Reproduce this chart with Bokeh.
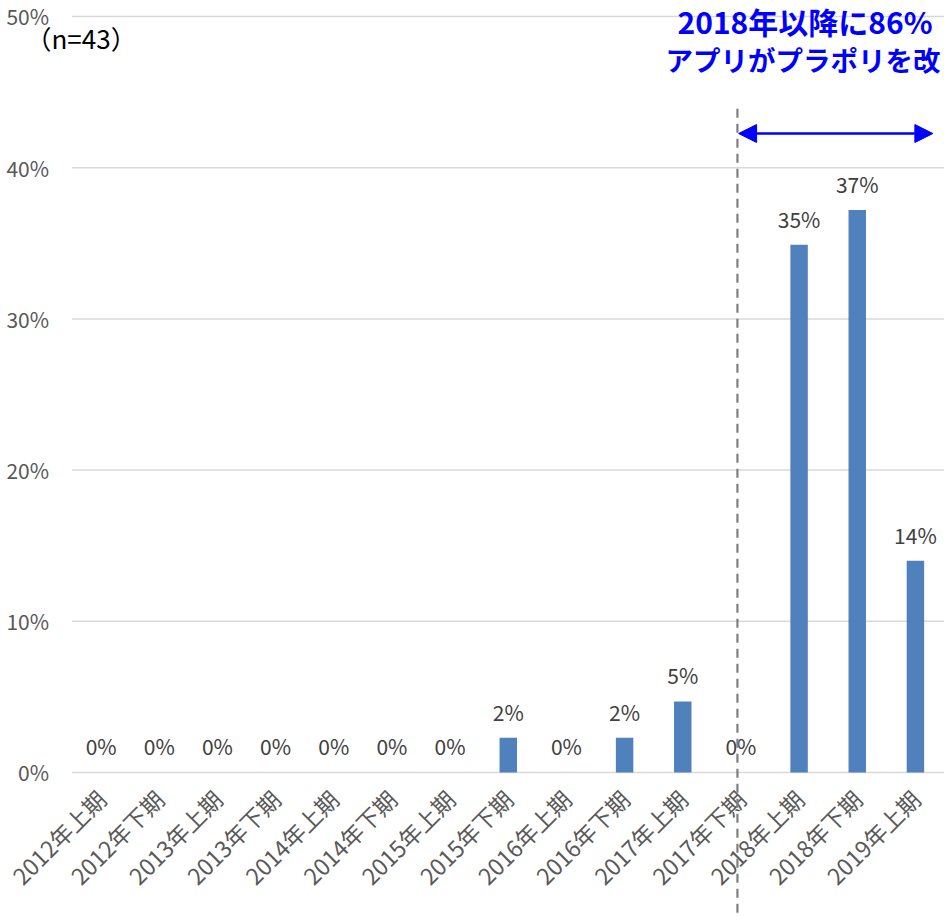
from bokeh.plotting import figure
from bokeh.models import (Range1d, FixedTicker, PrintfTickFormatter, ColumnDataSource,
                          Label, Arrow, NormalHead, LinearAxis)
from bokeh.core.properties import value
from bokeh.embed import file_html
from bokeh.resources import INLINE

categories = ["2012年上期", "2012年下期", "2013年上期", "2013年下期", "2014年上期",
              "2014年下期", "2015年上期", "2015年下期", "2016年上期", "2016年下期",
              "2017年上期", "2017年下期", "2018年上期", "2018年下期", "2019年上期"]
shares = [0, 0, 0, 0, 0, 0, 0, 2.3, 0, 2.3, 4.7, 0, 34.9, 37.2, 14.0]
y_ticks = [0, 10, 20, 30, 40, 50]
sample_note = "（n=43）"
callout_lines = ["2018年以降に86%", "アプリがプラポリを改"]

FONT = "Noto Sans CJK JP"

n = len(categories)
centers = [i + 0.5 for i in range(n)]
src = ColumnDataSource(dict(x=centers, v=shares, lbl=[f"{round(v)}%" for v in shares]))

# the plot frame spans the whole canvas; the axes are pinned inside it (fixed_location)
p = figure(x_range=Range1d(-1.23, n), y_range=Range1d(-9.524, 51.058),
           width=944, height=916, output_backend="svg", toolbar_location=None,
           x_axis_location=None, y_axis_location=None,
           min_border=0, min_border_left=0, min_border_right=0,
           min_border_top=0, min_border_bottom=0)
p.outline_line_color = None
p.background_fill_color = "white"
p.xgrid.visible = False
p.ygrid.visible = False

# horizontal gridlines across the category area
p.segment(x0=[0] * len(y_ticks), x1=[n] * len(y_ticks), y0=y_ticks, y1=y_ticks,
          line_color="#D9D9D9", line_width=1.5)

p.vbar(x="x", top="v", width=0.3, source=src, fill_color="#4F81BD", line_color=None)
p.text(x="x", y="v", text="lbl", source=src, text_align="center", text_baseline="alphabetic",
       y_offset=-26, text_font=value(FONT), text_font_size="21px", text_color="#404040")

yax = LinearAxis(fixed_location=0, ticker=FixedTicker(ticks=y_ticks),
                 formatter=PrintfTickFormatter(format="%d%%"))
xax = LinearAxis(fixed_location=0, ticker=FixedTicker(ticks=centers),
                 major_label_overrides={c: lab for c, lab in zip(centers, categories)})
for ax in (xax, yax):
    ax.axis_line_color = None
    ax.major_tick_line_color = None
    ax.minor_tick_line_color = None
    ax.major_label_text_font = FONT
    ax.major_label_text_color = "#595959"
yax.major_label_text_font_size = "21px"
xax.major_label_text_font_size = "23px"
yax.major_label_standoff = 17
xax.major_label_orientation = 0.785398
xax.major_label_standoff = 16
p.add_layout(yax, "left")
p.add_layout(xax, "below")

# dashed divider before 2018
p.add_layout(Arrow(end=None, x_start=11.44, x_end=11.44, y_start=43.9, y_end=-9.6,
                   line_color="#7F7F7F", line_width=2.2, line_dash="9 6"))
# blue double arrow
p.add_layout(Arrow(start=NormalHead(size=18, fill_color="#0000FF", line_color="#0000FF"),
                   end=NormalHead(size=18, fill_color="#0000FF", line_color="#0000FF"),
                   x_start=11.46, x_end=14.8, y_start=42.26, y_end=42.26,
                   line_color="#0000FF", line_width=2.5))

p.add_layout(Label(x=25, y=37, x_units="canvas", y_units="canvas", text=sample_note,
                   text_font=FONT, text_font_size="26px",
                   text_color="#000000", text_baseline="middle"))
p.add_layout(Label(x=677, y=20, x_units="canvas", y_units="canvas", text=callout_lines[0],
                   text_font=FONT, text_font_size="30px",
                   text_font_style="bold", text_color="#0000FF", text_baseline="middle"))
p.add_layout(Label(x=665, y=58, x_units="canvas", y_units="canvas", text=callout_lines[1],
                   text_font=FONT, text_font_size="27.5px",
                   text_font_style="bold", text_color="#0000FF", text_baseline="middle"))

open("out.html", "w").write(file_html(p, INLINE))
